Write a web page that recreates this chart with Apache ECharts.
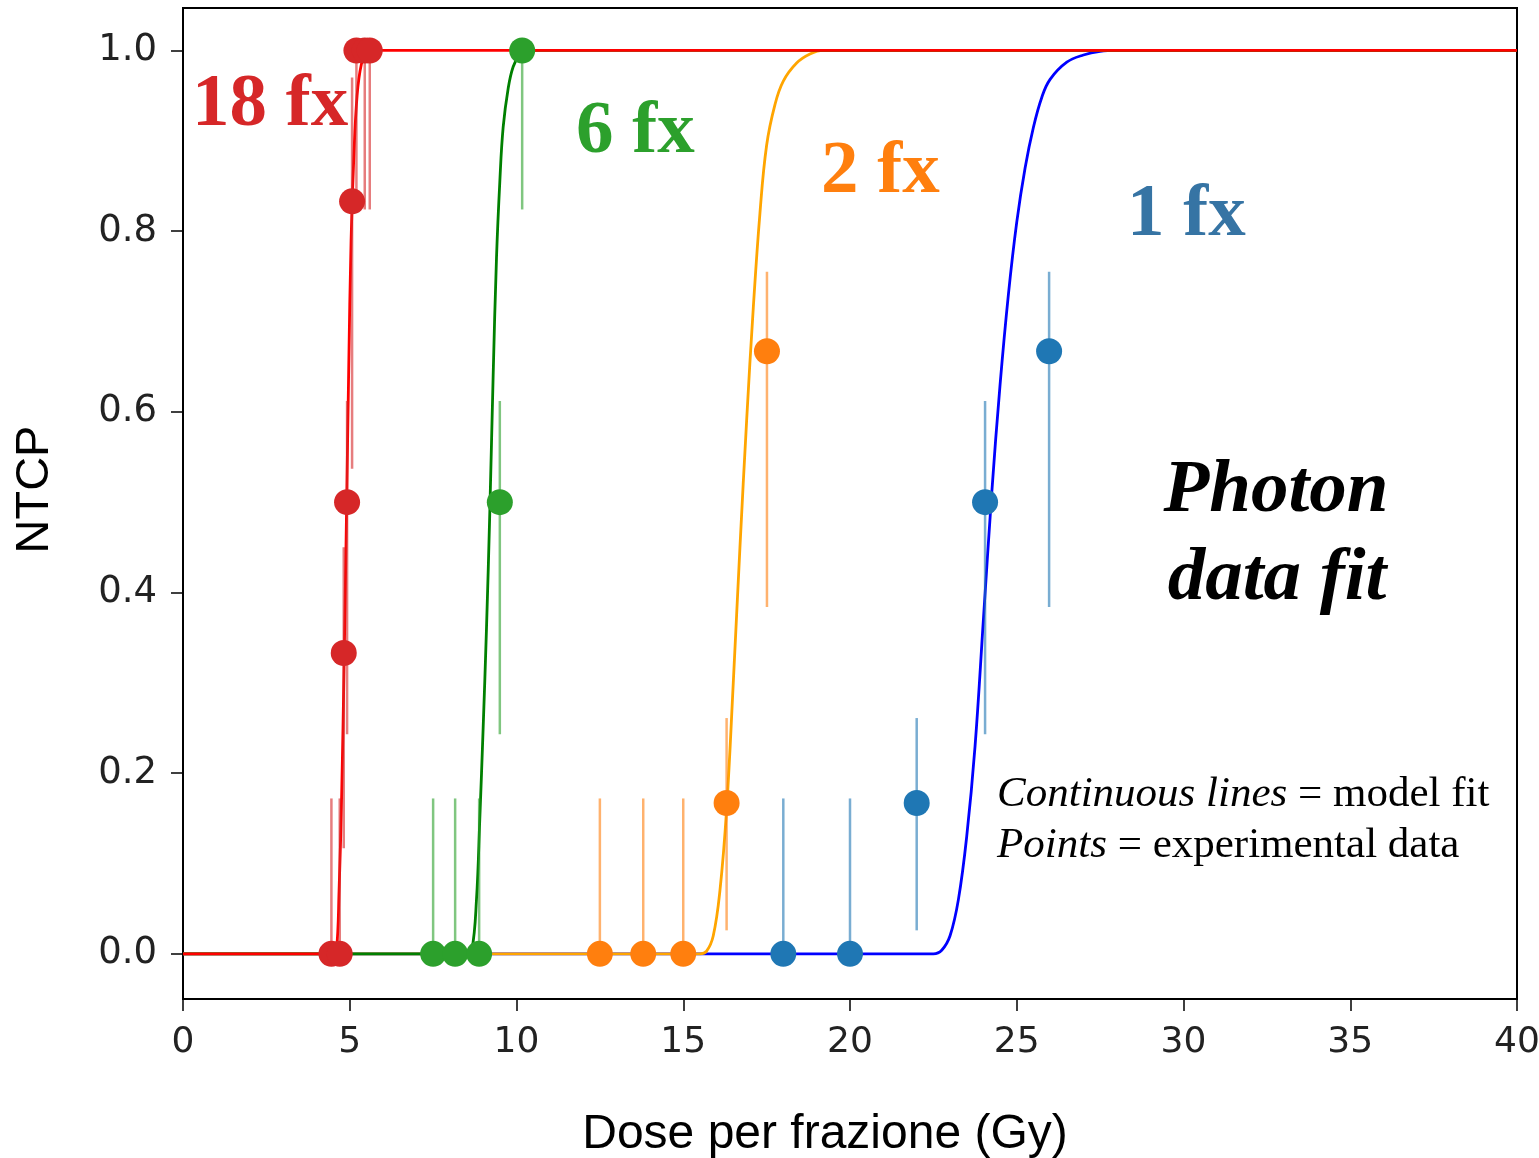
<!DOCTYPE html>
<html>
<head>
<meta charset="utf-8">
<title>NTCP - photon data fit</title>
<script src="https://cdn.jsdelivr.net/npm/echarts@6/dist/echarts.min.js"></script>
<style>
  html, body { margin: 0; padding: 0; background: #fff; }
  #chart { width: 1539px; height: 1158px; }
</style>
</head>
<body>
<div id="chart"></div>
<script>
// model fit curves
var fit1x = [0, 22.5, 22.75, 23.0, 23.25, 23.5, 23.75, 24.0, 24.25, 24.5, 24.75, 25.0, 25.25, 25.5, 25.75, 26.0, 26.5, 27.0, 27.5, 28.0, 40]
var fit1y = [0, 0, 0.004, 0.02, 0.06, 0.13, 0.23, 0.37, 0.51, 0.63, 0.73, 0.81, 0.87, 0.915, 0.948, 0.968, 0.987, 0.995, 0.999, 1, 1]

var fit2x = [0, 15.5, 15.7, 15.9, 16.1, 16.3, 16.5, 16.7, 16.9, 17.1, 17.3, 17.5, 17.75, 18.0, 18.4, 18.8, 19.2, 40]
var fit2y = [0, 0, 0.003, 0.02, 0.07, 0.16, 0.3, 0.45, 0.59, 0.715, 0.82, 0.895, 0.94, 0.966, 0.986, 0.996, 1, 1]

var fit6x = [0, 8.5, 8.66, 8.8, 8.9, 9.0, 9.1, 9.2, 9.3, 9.4, 9.5, 9.6, 9.75, 9.9, 10.1, 10.3, 40]
var fit6y = [0, 0, 0.004, 0.06, 0.15, 0.25, 0.36, 0.49, 0.64, 0.77, 0.855, 0.915, 0.958, 0.982, 0.996, 1, 1]

var fit18x = [0, 4.5, 4.6, 4.68, 4.76, 4.83, 4.9, 4.97, 5.04, 5.12, 5.22, 5.35, 5.5, 5.7, 40]
var fit18y = [0, 0, 0.003, 0.07, 0.18, 0.32, 0.48, 0.65, 0.79, 0.88, 0.95, 0.985, 0.997, 1, 1]

// experimental points with error bar ends
var pts1x = [18, 20, 22, 24.05, 25.97]
var pts1y = [0, 0, 0.167, 0.5, 0.667]
var pts1lo = [0, 0, 0.026, 0.243, 0.384]
var pts1hi = [0.172, 0.172, 0.261, 0.612, 0.755]

var pts2x = [12.5, 13.8, 15.0, 16.3, 17.51]
var pts2y = [0, 0, 0, 0.167, 0.667]
var pts2lo = [0, 0, 0, 0.026, 0.384]
var pts2hi = [0.172, 0.172, 0.172, 0.261, 0.755]

var pts6x = [7.5, 8.16, 8.88, 9.5, 10.17]
var pts6y = [0, 0, 0, 0.5, 1]
var pts6lo = [0, 0, 0, 0.243, 0.824]
var pts6hi = [0.172, 0.172, 0.172, 0.612, 1]

var pts18x = [4.45, 4.7, 4.82, 4.92, 5.07, 5.2, 5.45, 5.6]
var pts18y = [0, 0, 0.333, 0.5, 0.833, 1, 1, 1]
var pts18lo = [0, 0, 0.117, 0.243, 0.537, 0.824, 0.824, 0.824]
var pts18hi = [0.172, 0.172, 0.45, 0.612, 0.97, 1, 1, 1]

var yTicks = [0, 0.2, 0.4, 0.6, 0.8, 1.0]

var chart = echarts.init(document.getElementById('chart'))

function zip(xs, ys) {
  return xs.map(function (x, i) { return [x, ys[i]] })
}
function bars(xs, lo, hi) {
  return xs.map(function (x, i) { return [x, lo[i], hi[i]] })
}

function fitLine(name, xs, ys, color) {
  return {
    type: 'line', name: name, data: zip(xs, ys),
    showSymbol: false, smooth: 0.4,
    lineStyle: { color: color, width: 2.8 },
    z: 2
  }
}

function errorBars(name, data, color) {
  return {
    type: 'custom', name: name, data: data, z: 3,
    encode: { x: 0, y: [1, 2] },
    renderItem: function (params, api) {
      var a = api.coord([api.value(0), api.value(1)])
      var b = api.coord([api.value(0), api.value(2)])
      return {
        type: 'line',
        shape: { x1: a[0], y1: a[1], x2: b[0], y2: b[1] },
        style: { stroke: color, lineWidth: 2.5, opacity: 0.6 }
      }
    }
  }
}

function points(name, xs, ys, color) {
  return {
    type: 'scatter', name: name, data: zip(xs, ys),
    symbolSize: 26, itemStyle: { color: color, opacity: 1 },
    z: 4
  }
}

var serif = '"Liberation Serif", "Times New Roman", serif'

function note(y, lead, rest) {
  return {
    type: 'text', x: 997, y: y, z: 10,
    style: {
      text: '{i|' + lead + '} = ' + rest,
      fontFamily: 'Liberation Serif', fontSize: 43, fill: '#000', verticalAlign: 'middle',
      rich: { i: { fontFamily: 'Liberation Serif', fontSize: 43, fontStyle: 'italic' } }
    }
  }
}

function bigLabel(x, y, text, color, extra) {
  return {
    type: 'text', x: x, y: y, z: 10,
    style: Object.assign({ text: text, font: 'bold 75px ' + serif, fill: color, verticalAlign: 'middle' }, extra || {})
  }
}

chart.setOption({
  animation: false,
  backgroundColor: '#fff',
  grid: {
    left: 183, right: 22, top: 8, bottom: 159,
    outerBoundsMode: 'none',
    show: true, borderColor: '#000', borderWidth: 2
  },
  xAxis: {
    type: 'value', min: 0, max: 40, interval: 5,
    name: 'Dose per frazione (Gy)',
    nameLocation: 'middle', nameGap: 112,
    nameTextStyle: { fontFamily: 'Liberation Sans', fontSize: 48, color: '#000', padding: [0, 50, 0, 0] },
    axisLine: { show: false, onZero: false },
    axisTick: { show: true, length: 12, lineStyle: { color: '#000', width: 1.5 } },
    axisLabel: { fontFamily: 'DejaVu Sans', fontSize: 36, color: '#222', margin: 26 },
    splitLine: { show: false }
  },
  yAxis: {
    type: 'value', min: -0.05, max: 1.047,
    name: 'NTCP',
    nameLocation: 'middle', nameGap: 124,
    nameTextStyle: { fontFamily: 'Liberation Sans', fontSize: 47, color: '#000', padding: [0, 0, 0, 28] },
    axisLine: { show: false, onZero: false },
    axisTick: { show: true, length: 12, customValues: yTicks, lineStyle: { color: '#000', width: 1.5 } },
    axisLabel: {
      fontFamily: 'DejaVu Sans', fontSize: 37, color: '#222', margin: 26,
      customValues: yTicks,
      formatter: function (v) { return v.toFixed(1) }
    },
    splitLine: { show: false }
  },
  series: [
    fitLine('1 fx fit', fit1x, fit1y, '#0000ff'),
    fitLine('2 fx fit', fit2x, fit2y, '#ffa500'),
    fitLine('6 fx fit', fit6x, fit6y, '#008000'),
    fitLine('18 fx fit', fit18x, fit18y, '#ff0000'),
    errorBars('1 fx err', bars(pts1x, pts1lo, pts1hi), '#1f77b4'),
    errorBars('2 fx err', bars(pts2x, pts2lo, pts2hi), '#ff7f0e'),
    errorBars('6 fx err', bars(pts6x, pts6lo, pts6hi), '#2ca02c'),
    errorBars('18 fx err', bars(pts18x, pts18lo, pts18hi), '#d62728'),
    points('1 fx', pts1x, pts1y, '#1f77b4'),
    points('2 fx', pts2x, pts2y, '#ff7f0e'),
    points('6 fx', pts6x, pts6y, '#2ca02c'),
    points('18 fx', pts18x, pts18y, '#d62728')
  ],
  graphic: [
    bigLabel(192, 106, '18 fx', '#d62728'),
    bigLabel(576, 133, '6 fx', '#2ca02c'),
    bigLabel(821, 173, '2 fx', '#ff7f0e'),
    bigLabel(1127, 216, '1 fx', '#3674a4'),
    bigLabel(1276, 492, 'Photon', '#000', { font: 'italic bold 75px ' + serif, align: 'center' }),
    bigLabel(1277, 580, 'data fit', '#000', { font: 'italic bold 75px ' + serif, align: 'center' }),
    note(795, 'Continuous lines', 'model fit'),
    note(846, 'Points', 'experimental data')
  ]
})
</script>
</body>
</html>
